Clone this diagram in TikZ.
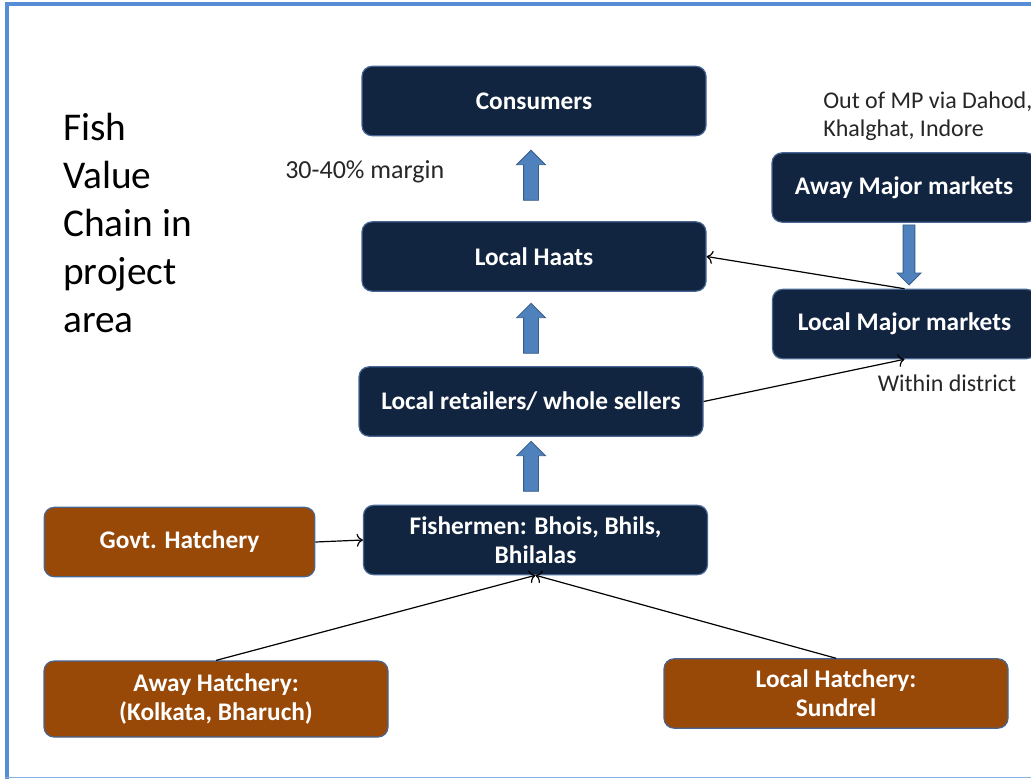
\documentclass[tikz,border=0pt]{standalone}
\usepackage{fontspec}
\setmainfont{Carlito}
\usetikzlibrary{shapes.arrows, arrows.meta}

\definecolor{navy}{RGB}{18,37,64}
\definecolor{rust}{RGB}{152,72,7}
\definecolor{edgeblue}{RGB}{72,102,148}
\definecolor{arrowblue}{RGB}{79,129,189}
\definecolor{arrowedge}{RGB}{56,93,138}
\definecolor{frameblue}{RGB}{85,142,213}

\tikzset{
    stage/.style = {draw = edgeblue, line width = 0.9pt, fill = navy, text = white,
        rounded corners = 7.5pt, minimum width = 258pt, minimum height = 52pt,
        font = \fontsize{19}{22}\selectfont\bfseries, align = center, inner sep = 0pt},
    hatchery/.style = {stage, fill = rust},
    upflow/.style = {single arrow, draw = arrowedge, fill = arrowblue, line width = 0.6pt,
        minimum height = 37.5pt, inner sep = 5.25pt,
        single arrow head extend = 5.25pt, shape border rotate = 90},
    link/.style = {-{To[scale = 1.3]}, line width = 0.9pt},
    note/.style = {font = \fontsize{18}{21}\selectfont, text = black!85, align = left, inner sep = 0pt}
}

\begin{document}
\begin{tikzpicture} [x = 0.75pt, y = -0.75pt]
            \useasboundingbox (0, 0) rectangle (1031, 779);
            \clip (0, 0) rectangle (1031, 779);

            % Rahmen
            \draw[frameblue, line width = 3pt] (7, 779) -- (7, 4) -- (1031, 4);
            \draw[frameblue!70, line width = 0.8pt] (5, 777.5) -- (1031, 777.5);

            % Titel
            \node [anchor = north west, align = left, font = \fontsize{29.5}{36}\selectfont, inner sep = 0pt] (title) at (63, 113)
                {Fish\\Value\\Chain in\\project\\area};

            % Kette
            \node [stage] (cons)   at (534, 101)   {Consumers};
            \node [stage] (haats)  at (534, 256.5) {Local Haats};
            \node [stage] (retail) at (531, 401.5) {Local retailers/ whole sellers};
            \node [stage] (fisher) at (535.5, 540) {Fishermen: Bhois, Bhils,\\Bhilalas};

            % Maerkte
            \node [stage, minimum width = 198pt] (awaym)  at (904, 187.5) {Away Major markets};
            \node [stage, minimum width = 198pt] (localm) at (904.5, 324) {Local Major markets};

            % Brutanstalten
            \node [hatchery, minimum width = 203pt] (govt) at (179.5, 542) {Govt. Hatchery};
            \node [hatchery, minimum height = 57pt] (awayh) at (216, 699) {Away Hatchery:\\(Kolkata, Bharuch)};
            \node [hatchery] (localh) at (836, 693.5) {Local Hatchery:\\Sundrel};

            % Blockpfeile
            \node [upflow] (up1) at (531, 179) {};
            \node [upflow] (up2) at (531, 332) {};
            \node [upflow] (up3) at (531, 470) {};
            \node [upflow, shape border rotate = 270, minimum height = 45pt, inner sep = 4.1pt,
                single arrow head extend = 4.5pt] (down) at (909, 252) {};

            % Verbindungen
            \draw[link] (localm.north) -- (haats.east);
            \draw[link] (retail.east) -- (localm.south);
            \draw[link] (govt.east) -- (fisher.west);
            \draw[link] (awayh.north) -- (fisher.south);
            \draw[link] (localh.north) -- (fisher.south);

            % Beschriftungen
            \node [note, anchor = west, font = \fontsize{19.5}{23}\selectfont] (margin) at (285, 172) {30-40\% margin};
            \node [note, anchor = north west] (outmp) at (823, 92) {Out of MP via Dahod,\\Khalghat, Indore};
            \node [note] (within) at (947, 383) {Within district};
        \end{tikzpicture}
\end{document}
